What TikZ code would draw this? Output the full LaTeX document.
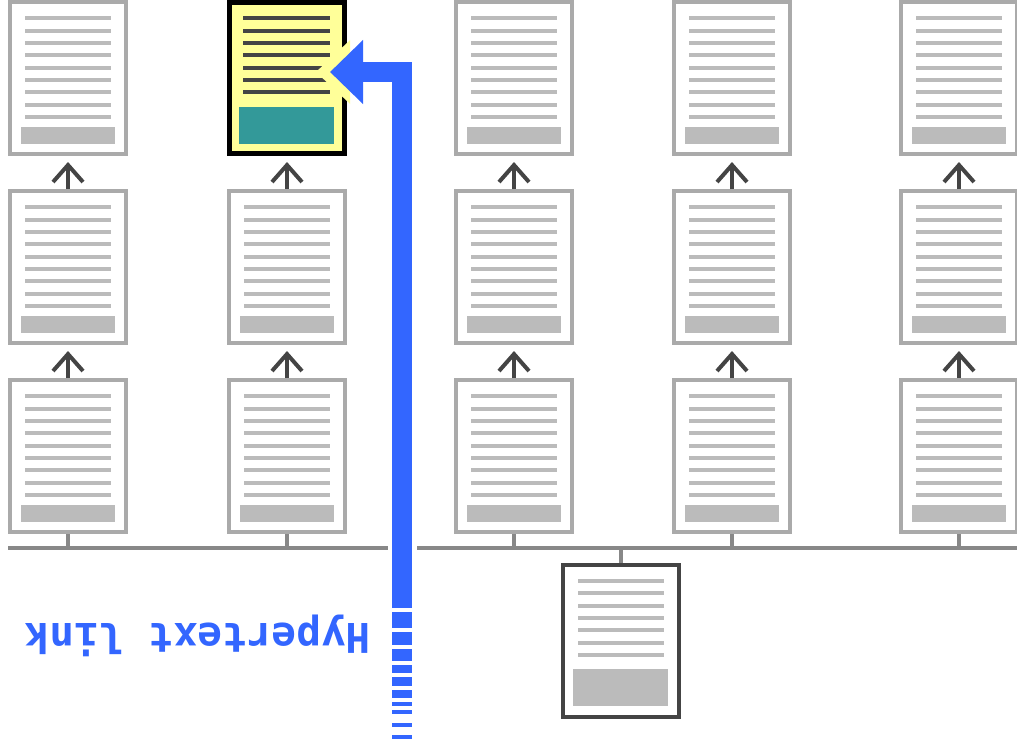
\documentclass[tikz,border=0pt]{standalone}
\usepackage{fontspec}
\newfontfamily\linkfont{DejaVu Sans Mono}
\usetikzlibrary{arrows.meta}
\definecolor{pageGray}{HTML}{AAAAAA}
\definecolor{lineGray}{HTML}{BBBBBB}
\definecolor{darkGray}{HTML}{444444}
\definecolor{busGray}{HTML}{888888}
\definecolor{noteYellow}{HTML}{FFFF99}
\definecolor{noteTeal}{HTML}{339999}
\definecolor{linkBlue}{HTML}{3366FF}
\begin{document}
\begin{tikzpicture}[x=1pt,y=-1pt,pageS/.style={draw=pageGray,line width=4pt,fill=white,minimum width=116pt,minimum height=152pt,inner sep=0pt},markS/.style={draw=black,line width=5pt,fill=noteYellow,minimum width=115pt,minimum height=151pt,inner sep=0pt},baseS/.style={draw=darkGray,line width=4pt,fill=white,minimum width=116pt,minimum height=152pt,inner sep=0pt},textL/.style={lineGray,line width=4pt},upA/.style={darkGray,line width=4pt,-{Straight Barb[length=17pt,width=30pt]},shorten >=6pt},busL/.style={busGray,line width=4pt},linkC/.style={linkBlue},linkT/.style={linkBlue,font=\linkfont\bfseries\fontsize{41}{41}\selectfont,inner sep=0pt}]
\useasboundingbox (0,0) rectangle (1017,749);

% the grid of pages
\foreach \n/\x/\y in {a1/68/78,a2/68/267,a3/68/456,b2/287/267,b3/287/456,c1/514/78,c2/514/267,c3/514/456,d1/732/78,d2/732/267,d3/732/456,e1/959/78,e2/959/267,e3/959/456} {
\node[pageS] (\n) at (\x,\y) {};
\foreach \d in {-60,-47,-35,-23,-10,2,14,27,39}
  \draw[textL] (\x-43,\y+\d) -- (\x+43,\y+\d);
\fill[lineGray] (\x-47,\y+49) rectangle (\x+47,\y+66);
}

% the page that the link points to
\node[markS] (b1) at (287,78) {};
\foreach \d in {-60,-47,-35,-23,2,14}
  \draw[darkGray,line width=4pt] (243,78+\d) -- (330,78+\d);
\draw[darkGray,line width=4pt] (243,68) -- (326,68);
\fill[noteTeal] (239,107) rectangle (334,144);

% the page below the bus
\node[baseS] (z) at (621,641) {};
\foreach \d in {-60,-48,-35,-23,-11,2,14}
  \draw[textL] (578,641+\d) -- (664,641+\d);
\fill[lineGray] (573,669) rectangle (668,706);

\foreach \c in {a,b,c,d,e} {
\draw[upA] (\c3.north) -- (\c2.south);
\draw[upA] (\c2.north) -- (\c1.south);
}

\coordinate (busA) at (8,548);
\coordinate (busB) at (388,548);
\coordinate (busC) at (417,548);
\coordinate (busD) at (1017,548);
\draw[busL] (busA) -- (busB);
\draw[busL] (busC) -- (busD);
\foreach \n in {a3,b3,c3,d3,e3}
  \draw[busL] (\n.south) -- (\n.south |- busA);
\draw[busL] (z.north |- busC) -- (z.north);

% hypertext link
\begin{scope}
\clip ([xshift=-3pt]b1.north west) rectangle ([xshift=3pt]b1.south east);
\fill[noteYellow] (363,28) -- (316,72) -- (363,116) -- cycle;
\end{scope}
\coordinate (linkS) at (402,608);
\coordinate (linkE) at (330,72);
\draw[linkC,line width=20pt,-{Triangle[length=33pt,width=62pt]}] (linkS) |- (linkE);
\foreach \a/\b in {612/628,632/645,649/661,665/673,677/686,690/698,702/706,710/714,723/727,735/739}
  \fill[linkC] (392,\a) rectangle (412,\b);
\node[linkT,rotate=180] (lbl) at (198,636) {Hypertext link};
\end{tikzpicture}
\end{document}
